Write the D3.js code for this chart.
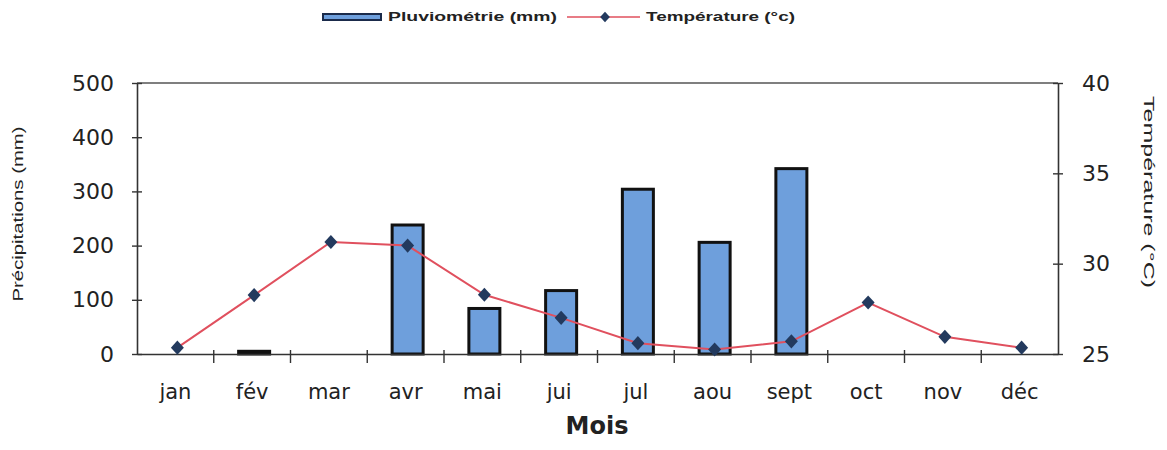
<!DOCTYPE html>
<html>
<head>
<meta charset="utf-8">
<script src="https://cdn.jsdelivr.net/npm/d3@7"></script>
<style>
  body { margin: 0; background: #fff; }
  svg text { font-family: "DejaVu Sans", Arial, sans-serif; fill: #222; }
</style>
</head>
<body>
<script>
var w = 1167,
  h = 450;

var months = ['jan', 'fév', 'mar', 'avr', 'mai', 'jui', 'jul', 'aou', 'sept', 'oct', 'nov', 'déc'];
var rain = [0, 5, 0, 238, 84, 117, 304, 206, 342, 0, 0, 0];
var temp = [25.35, 28.26, 31.2, 31.0, 28.28, 27.0, 25.6, 25.25, 25.7, 27.85, 25.95, 25.35];
var rainTicks = [0, 100, 200, 300, 400, 500];
var tempTicks = [25, 30, 35, 40];

var margin = { left: 137, right: 1058, top: 83, bottom: 354 };

var svg = d3.select('body').append('svg')
  .attr('width', w)
  .attr('height', h);

var x = d3.scaleBand()
  .domain(months)
  .range([margin.left, margin.right]);

var yRain = d3.scaleLinear()
  .domain([0, 500])
  .range([margin.bottom, margin.top]);

var yTemp = d3.scaleLinear()
  .domain([25, 40])
  .range([margin.bottom, margin.top]);

// plot frame top line
svg.append('line')
  .attr('x1', margin.left).attr('x2', margin.right)
  .attr('y1', margin.top).attr('y2', margin.top)
  .attr('stroke', '#555').attr('stroke-width', 1.5);

// bars
var barW = 31;
svg.selectAll('rect.bar')
  .data(rain)
  .enter()
  .append('rect')
  .attr('class', 'bar')
  .attr('x', function (d, i) { return x(months[i]) + x.bandwidth() / 2 - barW / 2 + 2; })
  .attr('y', function (d) { return yRain(d); })
  .attr('width', barW)
  .attr('height', function (d) { return yRain(0) - yRain(d); })
  .attr('fill', '#6e9fdc')
  .attr('stroke', '#111')
  .attr('stroke-width', function (d) { return d > 0 ? 3 : 0; });

// axes
var leftAxis = d3.axisLeft(yRain)
  .tickValues(rainTicks)
  .tickSizeInner(5)
  .tickSizeOuter(0);

var gl = svg.append('g')
  .attr('transform', 'translate(' + margin.left + ',0)')
  .call(leftAxis);

var rightAxis = d3.axisRight(yTemp)
  .tickValues(tempTicks)
  .tickSizeInner(5)
  .tickSizeOuter(0);

var gr = svg.append('g')
  .attr('transform', 'translate(' + margin.right + ',0)')
  .call(rightAxis);

var bottomAxis = d3.axisBottom(x)
  .tickSize(0)
  .tickPadding(30);

var gb = svg.append('g')
  .attr('transform', 'translate(0,' + margin.bottom + ')')
  .call(bottomAxis);

[gl, gr, gb].forEach(function (g) {
  g.select('.domain').attr('stroke', '#333').attr('stroke-width', 1.6);
  g.selectAll('.tick line').attr('stroke', '#333').attr('stroke-width', 1.4);
  g.selectAll('.tick text')
    .attr('font-size', 22)
    .attr('fill', '#222')
    .style('font-family', '"DejaVu Sans", Arial, sans-serif');
});

// crossing ticks on value axes
gl.selectAll('.tick line').attr('x1', 5).attr('x2', -5);
gr.selectAll('.tick line').attr('x1', -5).attr('x2', 5);
gl.selectAll('.tick text').attr('x', -23);
gr.selectAll('.tick text').attr('x', 24);
gb.selectAll('.tick text').attr('font-size', 21);

// category boundary ticks
svg.selectAll('line.xtick')
  .data(months.slice(1))
  .enter()
  .append('line')
  .attr('class', 'xtick')
  .attr('x1', function (d) { return x(d); })
  .attr('x2', function (d) { return x(d); })
  .attr('y1', margin.bottom - 4)
  .attr('y2', margin.bottom + 9)
  .attr('stroke', '#333')
  .attr('stroke-width', 1.4);

// temperature line
var line = d3.line()
  .x(function (d, i) { return x(months[i]) + x.bandwidth() / 2 + 2; })
  .y(function (d) { return yTemp(d); });

svg.append('path')
  .datum(temp)
  .attr('d', line)
  .attr('fill', 'none')
  .attr('stroke', '#e0505e')
  .attr('stroke-width', 2);

svg.selectAll('path.marker')
  .data(temp)
  .enter()
  .append('path')
  .attr('class', 'marker')
  .attr('d', d3.symbol().type(d3.symbolDiamond).size(80))
  .attr('transform', function (d, i) {
    return 'translate(' + (x(months[i]) + x.bandwidth() / 2 + 2) + ',' + yTemp(d) + ') scale(1.35,0.85)';
  })
  .attr('fill', '#233a5e');

// axis titles
svg.append('text')
  .attr('transform', 'translate(23,214) rotate(-90) scale(1,0.85)')
  .attr('text-anchor', 'middle')
  .attr('font-size', 18)
  .attr('textLength', 175)
  .attr('lengthAdjust', 'spacingAndGlyphs')
  .style('font-family', '"Liberation Sans", Arial, sans-serif')
  .text('Précipitations (mm)');

svg.append('text')
  .attr('transform', 'translate(1144,192) rotate(90) scale(1,0.85)')
  .attr('text-anchor', 'middle')
  .attr('font-size', 18)
  .attr('textLength', 192)
  .attr('lengthAdjust', 'spacingAndGlyphs')
  .style('font-family', '"Liberation Sans", Arial, sans-serif')
  .text('Température (°C)');

svg.append('text')
  .attr('x', 597)
  .attr('y', 434)
  .attr('text-anchor', 'middle')
  .attr('font-size', 24)
  .attr('font-weight', 'bold')
  .text('Mois');

// legend
var legend = svg.append('g');

legend.append('rect')
  .attr('x', 323).attr('y', 14)
  .attr('width', 58).attr('height', 6)
  .attr('fill', '#6e9fdc')
  .attr('stroke', '#1a2a4a')
  .attr('stroke-width', 2);

legend.append('text')
  .attr('x', 388).attr('y', 21)
  .attr('font-size', 12)
  .attr('font-weight', 'bold')
  .attr('textLength', 169)
  .attr('lengthAdjust', 'spacingAndGlyphs')
  .style('font-family', '"Liberation Sans", Arial, sans-serif')
  .text('Pluviométrie (mm)');

legend.append('line')
  .attr('x1', 567).attr('x2', 640)
  .attr('y1', 17).attr('y2', 17)
  .attr('stroke', '#e0505e')
  .attr('stroke-width', 1.5);

legend.append('path')
  .attr('d', d3.symbol().type(d3.symbolDiamond).size(45))
  .attr('transform', 'translate(605,17) scale(1.35,0.85)')
  .attr('fill', '#233a5e');

legend.append('text')
  .attr('x', 646).attr('y', 21)
  .attr('font-size', 12)
  .attr('font-weight', 'bold')
  .attr('textLength', 149)
  .attr('lengthAdjust', 'spacingAndGlyphs')
  .style('font-family', '"Liberation Sans", Arial, sans-serif')
  .text('Température (°c)');
</script>
</body>
</html>
